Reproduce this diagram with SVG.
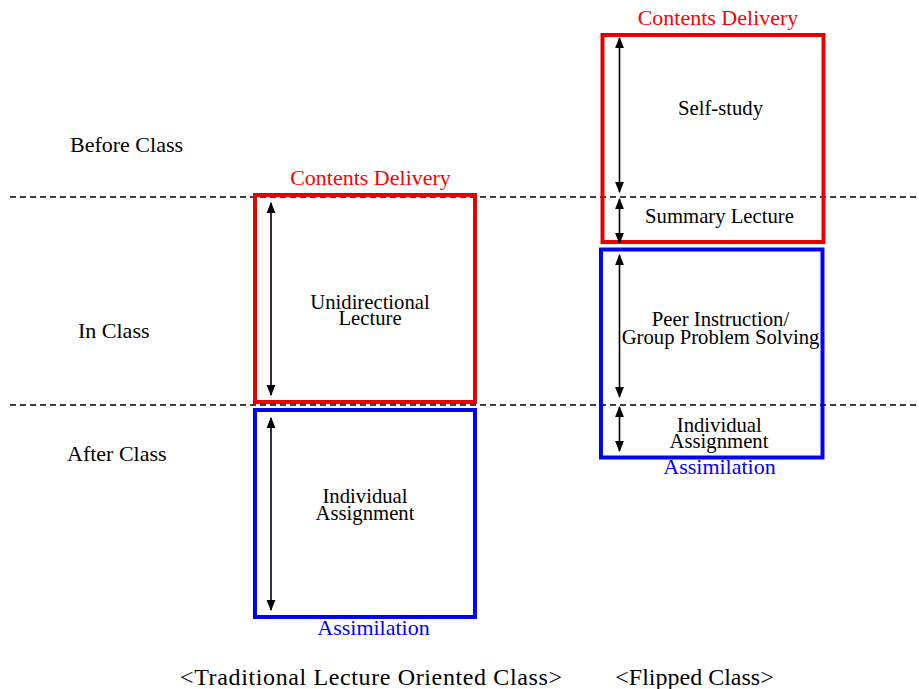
<svg xmlns="http://www.w3.org/2000/svg" width="919" height="689" viewBox="0 0 919 689">
<defs>
<marker id="ah" viewBox="0 0 10 10" refX="9" refY="5" markerWidth="11" markerHeight="11" markerUnits="userSpaceOnUse" orient="auto-start-reverse">
<path d="M0,1 L10,5 L0,9 Z" fill="#000"/>
</marker>
<style>
text{font-family:"Liberation Serif","Times New Roman",serif;}
.lbl{font-size:22px;fill:#000;}
.body{font-size:20.7px;fill:#000;text-anchor:middle;}
.red{font-size:22px;fill:#ff0000;text-anchor:middle;}
.blue{font-size:22px;fill:#0000ff;text-anchor:middle;}
.cap{font-size:24px;fill:#000;text-anchor:middle;}
.rbox{fill:none;stroke:#e60000;stroke-width:4;}
.bbox{fill:none;stroke:#0000ff;stroke-width:4;}
.dash{stroke:#000;stroke-width:1.3;stroke-dasharray:6 4;fill:none;}
.arr{stroke:#000;stroke-width:1.6;fill:none;marker-start:url(#ah);marker-end:url(#ah);}
</style>
</defs>
<rect width="919" height="689" fill="#fff"/>
<g id="period-labels">
<text class="lbl" x="70" y="152">Before Class</text>
<text class="lbl" x="78" y="338">In Class</text>
<text class="lbl" x="67" y="461">After Class</text>
</g>
<g id="dividers">
<line class="dash" x1="10" y1="197" x2="916" y2="197"/>
<line class="dash" x1="10" y1="405" x2="916" y2="405"/>
</g>
<g id="trad-delivery">
<rect class="rbox" x="255" y="195" width="220" height="207"/>
<text class="red" x="370.5" y="185">Contents Delivery</text>
<text class="body" x="370" y="309">Unidirectional</text>
<text class="body" x="370" y="325">Lecture</text>
</g>
<g id="trad-assimilation">
<rect class="bbox" x="255" y="410" width="220" height="207"/>
<text class="body" x="365" y="503">Individual</text>
<text class="body" x="365" y="520">Assignment</text>
<text class="blue" x="373.5" y="635">Assimilation</text>
</g>
<g id="flip-delivery">
<rect class="rbox" x="602.5" y="35" width="221" height="207"/>
<text class="red" x="718" y="25">Contents Delivery</text>
<text class="body" x="720.5" y="115">Self-study</text>
<text class="body" x="719.5" y="223">Summary Lecture</text>
</g>
<g id="flip-assimilation">
<rect class="bbox" x="601" y="249.5" width="221.5" height="208"/>
<text class="body" x="720.5" y="326">Peer Instruction/</text>
<text class="body" x="720.5" y="343.5">Group Problem Solving</text>
<text class="body" x="719.3" y="432">Individual</text>
<text class="body" x="719" y="447.5">Assignment</text>
<text class="blue" x="719.5" y="474">Assimilation</text>
</g>
<g id="connectors">
<line class="arr" x1="271" y1="203" x2="271" y2="395"/>
<line class="arr" x1="271" y1="418" x2="271" y2="610"/>
<line class="arr" x1="619.5" y1="38" x2="619.5" y2="192"/>
<line class="arr" x1="619.5" y1="199" x2="619.5" y2="243"/>
<line class="arr" x1="619.5" y1="255" x2="619.5" y2="397"/>
<line class="arr" x1="619.5" y1="407" x2="619.5" y2="451"/>
</g>
<g id="captions">
<text class="cap" x="371" y="685" textLength="382" lengthAdjust="spacing">&lt;Traditional Lecture Oriented Class&gt;</text>
<text class="cap" x="694.5" y="685">&lt;Flipped Class&gt;</text>
</g>
</svg>
